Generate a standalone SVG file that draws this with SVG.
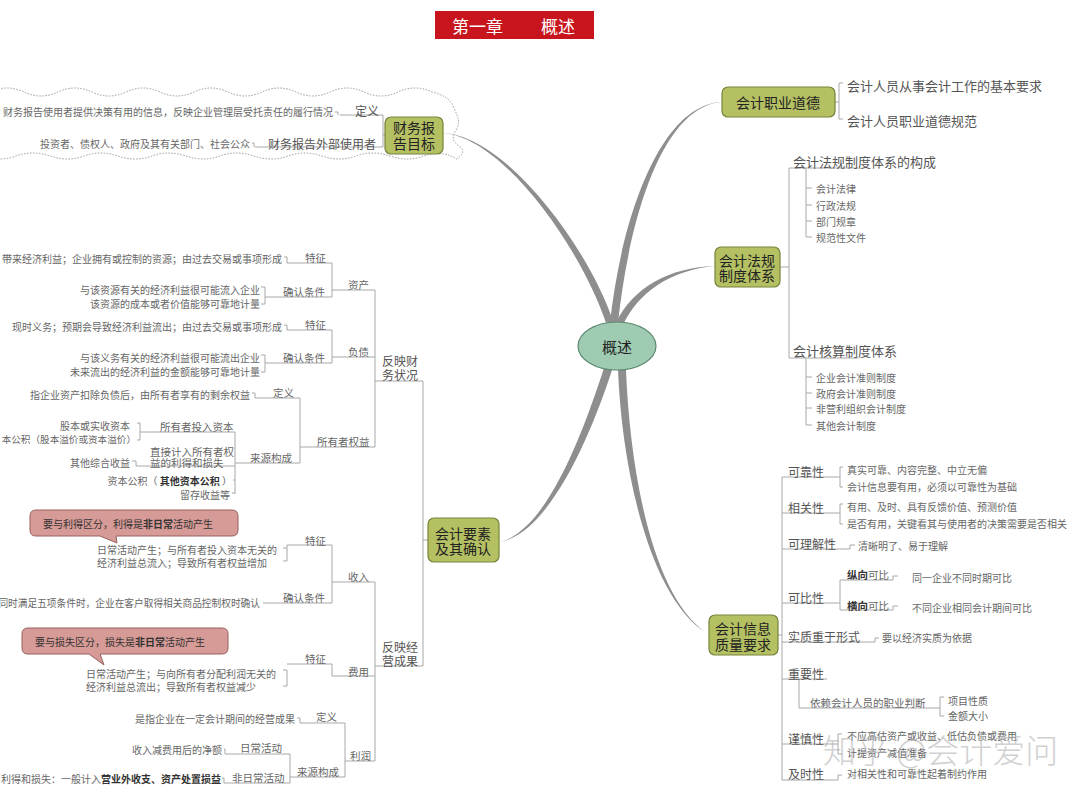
<svg xmlns="http://www.w3.org/2000/svg" width="1080" height="796" viewBox="0 0 1080 796">
<style>
text{font-family:"Noto Sans CJK SC","Noto Sans",sans-serif;dominant-baseline:central}
.s{font-size:10px;fill:#666}
.lb{font-size:10.5px;fill:#666}
.m{font-size:12px;fill:#555}
.m13{font-size:13px;fill:#555}
.nt{font-size:14px;fill:#222;text-anchor:middle}
.e{text-anchor:end}
.b{font-weight:bold;fill:#333}
.ln{fill:none;stroke:#a8a8a8;stroke-width:1}
.br{fill:#8e8e8e}
.nd{fill:#b4c062;stroke:#76833a;stroke-width:1.2}
.co{fill:#d69a97;stroke:#96605e;stroke-width:1}
.cloud{fill:none;stroke:#9a9a9a;stroke-width:1;stroke-dasharray:1.5 1.5}
</style>
<rect width="1080" height="796" fill="#fff"/>

<g id="title">
<rect x="435" y="11" width="159" height="28" fill="#c8141c"/>
<text x="452" y="25" style="font-size:17px;fill:#fff">第一章</text>
<text x="541" y="25" style="font-size:17px;fill:#fff">概述</text>
</g>

<g id="branches">
<path class="br" d="M443,133 C505,138 582,251 606,323 L613,321 C589,249 507,136 443,133 Z"/>
<path class="br" d="M722,102 C660,104 621,220 610,323 L618,323 C629,220 662,106 722,102 Z"/>
<path class="br" d="M715,266 C670,267 632,288 616,323 L623,325 C638,293 670,270 715,266 Z"/>
<path class="br" d="M500,542 C548,530 584,429 604,368 L612,370 C592,432 550,533 500,542 Z"/>
<path class="br" d="M708,634 C650,600 622,470 618,370 L626,370 C630,470 652,598 708,634 Z"/>
</g>

<g id="connectors">
<path class="cloud" d="M-10,92 Q7,84 24,92 T58,92 T92,92 T126,92 T160,92 T194,92 T228,92 T262,92 T296,92 T330,92 T364,92 T398,92 T432,92 Q448,96 452,104 T458,118 T455,132 T459,146 T455,160"/>
<path class="cloud" d="M455,158 Q440,150 424,156 T390,156 T356,156 T322,156 T288,156 T254,156 T220,156 T186,156 T152,156 T118,156 T84,156 T50,156 T16,156 T-18,156"/>
<path class="ln" d="M335,112 H338 V115 M340,115 H383 V147 H255 M252,143 H254 V147 M383,135 H385"/>
<path class="ln" d="M284,257 H287 V263 H332 M261,287 H265 V304 H261 M265,297 H332 M332,263 V297 M332,290 H375"/>
<path class="ln" d="M284,325 H287 V330 H332 M261,355 H265 V372 H261 M265,363 H332 M332,330 V363 M332,357 H375"/>
<path class="ln" d="M252,393 H255 V398 H300 M137,423 H140 V440 H137 M140,432 H235 M132,461 H136 V466 H235 M233,480 H235 M232,493 H235 M235,432 V494 M235,463 H300 M300,398 V463 M300,447 H375 M375,290 V447"/>
<path class="ln" d="M375,381 H423 V666 M423,540 H428"/>
<path class="ln" d="M283,548 H287 V545 H332 M283,561 H287 V548 M263,603 H332 M332,545 V603 M332,582 H375"/>
<path class="ln" d="M283,670 H287 V686 H283 M287,664 H332 V676 H375"/>
<path class="ln" d="M297,718 H300 V723 H345 M224,749 H225 V754 H290 M222,778 H224 V783 H290 M290,754 V783 M290,777 H345 M345,723 V777 M345,761 H375 M375,582 V761 M375,666 H423"/>
<path class="ln" d="M843,83 H839 V119 H843 M835,102 H839"/>
<path class="ln" d="M780,267 H789 M789,168 V358 M789,168 H858 M789,358 H858 M806,168 V237 H812 M806,188 H812 M806,205 H812 M806,221 H812 M806,358 V425 H812 M806,377 H812 M806,393 H812 M806,408 H812"/>
<path class="ln" d="M778,635 H782 M782,477 V780"/>
<path class="ln" d="M782,477 H840 M843,467 H840 V487 H843"/>
<path class="ln" d="M782,513 H840 M843,504 H840 V524 H843"/>
<path class="ln" d="M782,549 H850 V545 H855"/>
<path class="ln" d="M782,603 H840 M840,580 V610 M840,580 H893 V576 H898 M840,610 H893 V606 H898"/>
<path class="ln" d="M782,642 H875 V638 H879"/>
<path class="ln" d="M782,679 H827 M799,679 V708 H940 M944,697 H940 V716 H944"/>
<path class="ln" d="M782,744 H838 M842,734 H838 V754 H842"/>
<path class="ln" d="M782,780 H838 V775 H842"/>
</g>

<g id="node-center">
<ellipse cx="617" cy="346" rx="39" ry="24" fill="#9ecbb1" stroke="#5d8a70" stroke-width="1.2"/>
<text x="617" y="346" style="font-size:15px;fill:#222;text-anchor:middle">概述</text>
</g>

<g id="node-caiwubaogao">
<rect class="nd" x="385" y="117" width="58" height="37" rx="6"/>
<text class="nt" x="414" y="127">财务报</text>
<text class="nt" x="414" y="143">告目标</text>
<text class="s e" x="333" y="111">财务报告使用者提供决策有用的信息，反映企业管理层受托责任的履行情况</text>
<text class="m" x="355" y="110">定义</text>
<text class="s e" x="250" y="143">投资者、债权人、政府及其有关部门、社会公众</text>
<text class="m" x="268" y="143">财务报告外部使用者</text>
</g>

<g id="node-zhiyedaode">
<rect class="nd" x="722" y="87" width="113" height="30" rx="6"/>
<text class="nt" x="778" y="102">会计职业道德</text>
<text class="m13" x="847" y="85">会计人员从事会计工作的基本要求</text>
<text class="m13" x="847" y="120">会计人员职业道德规范</text>
</g>

<g id="node-fagui">
<rect class="nd" x="715" y="247" width="65" height="40" rx="6"/>
<text class="nt" x="747" y="260">会计法规</text>
<text class="nt" x="747" y="275">制度体系</text>
<text class="m13" x="793" y="161">会计法规制度体系的构成</text>
<text class="s" x="816" y="188">会计法律</text>
<text class="s" x="816" y="205">行政法规</text>
<text class="s" x="816" y="221">部门规章</text>
<text class="s" x="816" y="237">规范性文件</text>
<text class="m13" x="793" y="350">会计核算制度体系</text>
<text class="s" x="816" y="377">企业会计准则制度</text>
<text class="s" x="816" y="393">政府会计准则制度</text>
<text class="s" x="816" y="408">非营利组织会计制度</text>
<text class="s" x="816" y="425">其他会计制度</text>
</g>

<g id="node-xinxi">
<rect class="nd" x="709" y="615" width="69" height="40" rx="6"/>
<text class="nt" x="743" y="628">会计信息</text>
<text class="nt" x="743" y="644">质量要求</text>
<text class="m" x="788" y="471">可靠性</text>
<text class="s" x="847" y="469">真实可靠、内容完整、中立无偏</text>
<text class="s" x="847" y="486">会计信息要有用，必须以可靠性为基础</text>
<text class="m" x="788" y="507">相关性</text>
<text class="s" x="847" y="506">有用、及时、具有反馈价值、预测价值</text>
<text class="s" x="847" y="523">是否有用，关键看其与使用者的决策需要是否相关</text>
<text class="m" x="788" y="543">可理解性</text>
<text class="s" x="858" y="545">清晰明了、易于理解</text>
<text class="m" x="788" y="597">可比性</text>
<text class="lb" x="847" y="574"><tspan class="b">纵向</tspan>可比</text>
<text class="s" x="912" y="577">同一企业不同时期可比</text>
<text class="lb" x="847" y="605"><tspan class="b">横向</tspan>可比</text>
<text class="s" x="912" y="607">不同企业相同会计期间可比</text>
<text class="m" x="788" y="636">实质重于形式</text>
<text class="s" x="882" y="637">要以经济实质为依据</text>
<text class="m" x="788" y="673">重要性</text>
<text class="lb" x="810" y="702">依赖会计人员的职业判断</text>
<text class="s" x="948" y="700">项目性质</text>
<text class="s" x="948" y="715">金额大小</text>
<text class="m" x="788" y="738">谨慎性</text>
<text class="s" x="847" y="735">不应高估资产或收益、低估负债或费用</text>
<text class="s" x="847" y="752">计提资产减值准备</text>
<text class="m" x="788" y="773">及时性</text>
<text class="s" x="847" y="773">对相关性和可靠性起着制约作用</text>
</g>

<g id="node-yaosu">
<rect class="nd" x="428" y="518" width="71" height="44" rx="6"/>
<text class="nt" x="463" y="533">会计要素</text>
<text class="nt" x="463" y="548">及其确认</text>
</g>

<g id="node-caiwuzhuangkuang">
<text class="m" x="382" y="360">反映财</text>
<text class="m" x="382" y="374">务状况</text>
<text class="lb" x="348" y="284">资产</text>
<text class="s e" x="282" y="258">带来经济利益；企业拥有或控制的资源；由过去交易或事项形成</text>
<text class="lb" x="305" y="257">特征</text>
<text class="s e" x="260" y="289">与该资源有关的经济利益很可能流入企业</text>
<text class="s e" x="260" y="303">该资源的成本或者价值能够可靠地计量</text>
<text class="lb" x="283" y="291">确认条件</text>
<text class="lb" x="348" y="351">负债</text>
<text class="s e" x="282" y="326">现时义务；预期会导致经济利益流出；由过去交易或事项形成</text>
<text class="lb" x="305" y="324">特征</text>
<text class="s e" x="260" y="357">与该义务有关的经济利益很可能流出企业</text>
<text class="s e" x="260" y="371">未来流出的经济利益的金额能够可靠地计量</text>
<text class="lb" x="283" y="357">确认条件</text>
<text class="lb" x="317" y="441">所有者权益</text>
<text class="s e" x="250" y="394">指企业资产扣除负债后，由所有者享有的剩余权益</text>
<text class="lb" x="273" y="392">定义</text>
<text class="lb" x="250" y="457">来源构成</text>
<text class="lb" x="160" y="426">所有者投入资本</text>
<text class="s e" x="130" y="425">股本或实收资本</text>
<text class="s e" x="136" y="439" style="font-size:9.6px">本公积（股本溢价或资本溢价）</text>
<text class="lb" x="150" y="451">直接计入所有者权</text>
<text class="lb" x="150" y="462">益的利得和损失</text>
<text class="s e" x="130" y="462">其他综合收益</text>
<text class="s e" x="232" y="480">资本公积（ <tspan class="b">其他资本公积</tspan> ）</text>
<text class="s e" x="230" y="494">留存收益等</text>
</g>

<g id="node-jingyingchengguo">
<text class="m" x="382" y="646">反映经</text>
<text class="m" x="382" y="660">营成果</text>
<path class="co" d="M36,510 H232 Q238,510 238,516 V530 Q238,536 232,536 H116 L117,543 L100,536 H36 Q30,536 30,530 V516 Q30,510 36,510 Z"/>
<text class="s" x="43" y="523" style="fill:#333">要与利得区分，利得是<tspan class="b">非日常</tspan>活动产生</text>
<text class="lb" x="348" y="576">收入</text>
<text class="lb" x="305" y="540">特征</text>
<text class="s" x="97" y="549">日常活动产生；与所有者投入资本无关的</text>
<text class="s" x="97" y="562">经济利益总流入；导致所有者权益增加</text>
<text class="lb" x="283" y="597">确认条件</text>
<text class="s e" x="260" y="603" style="font-size:9.7px">同时满足五项条件时，企业在客户取得相关商品控制权时确认</text>
<path class="co" d="M28,628 H222 Q228,628 228,634 V648 Q228,654 222,654 H100 L104,665 L89,654 H28 Q22,654 22,648 V634 Q22,628 28,628 Z"/>
<text class="s" x="35" y="641" style="fill:#333">要与损失区分，损失是<tspan class="b">非日常</tspan>活动产生</text>
<text class="lb" x="348" y="671">费用</text>
<text class="lb" x="305" y="658">特征</text>
<text class="s" x="86" y="673">日常活动产生；与向所有者分配利润无关的</text>
<text class="s" x="86" y="686">经济利益总流出；导致所有者权益减少</text>
<text class="lb" x="350" y="755">利润</text>
<text class="s e" x="295" y="718">是指企业在一定会计期间的经营成果</text>
<text class="lb" x="316" y="716">定义</text>
<text class="lb" x="297" y="771">来源构成</text>
<text class="s e" x="222" y="749">收入减费用后的净额</text>
<text class="lb" x="240" y="747">日常活动</text>
<text class="s e" x="221" y="778">利得和损失：一般计入<tspan class="b">营业外收支、资产处置损益</tspan></text>
<text class="lb" x="232" y="777">非日常活动</text>
</g>

<g id="watermark">
<text x="823" y="749" style="font-size:33px;fill:#b4b4b4;opacity:0.6;font-weight:300">知乎 @会计爱问</text>
</g>
</svg>
